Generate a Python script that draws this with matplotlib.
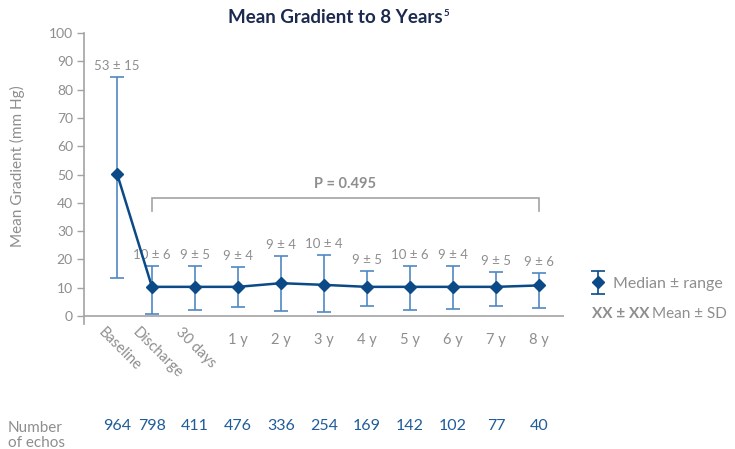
import matplotlib
matplotlib.use("Agg")
import matplotlib.pyplot as plt
import matplotlib.transforms as mtransforms
from matplotlib.container import ErrorbarContainer
from matplotlib.legend_handler import HandlerErrorbar
import numpy as np

plt.rcParams["font.family"] = ["Lato", "DejaVu Sans"]

# data
categories = ["Baseline", "Discharge", "30 days", "1 y", "2 y", "3 y",
              "4 y", "5 y", "6 y", "7 y", "8 y"]
median = [50.2, 10.3, 10.3, 10.3, 11.6, 11.0, 10.3, 10.3, 10.3, 10.3, 10.8]
range_hi = [84.4, 17.7, 17.7, 17.3, 21.2, 21.6, 16.0, 17.7, 17.7, 15.6, 15.2]
range_lo = [13.4, 0.8, 2.2, 3.1, 1.9, 1.5, 3.7, 2.2, 2.4, 3.4, 2.9]
mean_sd = ["53 ± 15", "10 ± 6", "9 ± 5", "9 ± 4", "9 ± 4", "10 ± 4",
           "9 ± 5", "10 ± 6", "9 ± 4", "9 ± 5", "9 ± 6"]
n_echos = [964, 798, 411, 476, 336, 254, 169, 142, 102, 77, 40]
p_value = "P = 0.495"

# baseline sits a bit closer to discharge than the other gaps
xpos = np.array([0.19] + list(range(1, 11)), dtype=float)

GRAY = "#8e8e8e"
SPINE = "#a3a3a3"
NAVY = "#0b4a87"
LIGHT = "#4f88c2"
TITLE = "#1b2a4e"

fig = plt.figure(figsize=(7.35, 4.49), dpi=100)
ax = fig.add_axes([0.1143, 0.2773, 0.653, 0.6492])

med = np.array(median)
yerr = [med - np.array(range_lo), np.array(range_hi) - med]
eb = ax.errorbar(xpos, med, yerr=yerr, fmt="-D", color=NAVY, lw=1.8,
                 ms=6.5, ecolor=LIGHT, elinewidth=1.2, capsize=5,
                 capthick=1.2, zorder=3)
for cap in eb[1]:
    cap.set_color(NAVY)

# mean +/- SD labels above the range caps
for x, hi, lab in zip(xpos, range_hi, mean_sd):
    ax.annotate(lab, (x, hi), xytext=(0, 3.5), textcoords="offset points",
                ha="center", va="bottom", fontsize=9.5, color=GRAY)

# p-value bracket from discharge to 8 y
bx0, bx1 = xpos[1], xpos[-1]
ax.plot([bx0, bx0, bx1, bx1], [37.2, 41.8, 41.8, 37.2], color=SPINE, lw=1.2,
        solid_joinstyle="miter")
ax.text((bx0 + bx1) / 2, 44, p_value, ha="center", va="bottom", fontsize=10.5,
        fontweight="bold", color=GRAY)

ax.set_xlim(-0.58, 10.58)
ax.set_ylim(-3, 100)
ax.set_yticks(np.arange(0, 101, 10))
ax.set_xticks(xpos)
ax.set_xticklabels(categories)
ax.tick_params(axis="y", length=5, width=1, color=SPINE, labelcolor=GRAY,
               labelsize=10, pad=3)
ax.tick_params(axis="x", length=0, labelcolor=GRAY, labelsize=10.5, pad=6)

offset = mtransforms.ScaledTranslation(-12 / 100, 8 / 100, fig.dpi_scale_trans)
for lab in ax.get_xticklabels()[:3]:
    lab.set_rotation(-45)
    lab.set_rotation_mode("anchor")
    lab.set_ha("left")
    lab.set_va("top")
    lab.set_transform(lab.get_transform() + offset)

for side in ["top", "right", "bottom"]:
    ax.spines[side].set_visible(False)
ax.spines["left"].set_color(SPINE)
ax.spines["left"].set_linewidth(1.2)
ax.axhline(0, color=SPINE, lw=1.2, zorder=1)

ax.set_ylabel("Mean Gradient (mm Hg)", color=GRAY, fontsize=11)
ax.yaxis.set_label_coords(-0.123, 0.544)

# legend
proxy = ax.errorbar([np.nan], [np.nan], yerr=[[1], [1]], fmt="D", color=NAVY,
                    ms=6.5, ecolor=NAVY, elinewidth=1.2, capsize=5,
                    capthick=1.2)
leg = ax.legend([proxy], ["Median ± range"], loc="center left",
                bbox_to_anchor=(1.045, 0.139), frameon=False, fontsize=11.5,
                handlelength=0.8, handletextpad=0.5, labelcolor=GRAY,
                borderaxespad=0,
                handler_map={ErrorbarContainer: HandlerErrorbar(yerr_size=0.72)})
t1 = ax.text(1.058, 0.037, "XX ± XX", transform=ax.transAxes, fontsize=11,
             fontweight="bold", color=GRAY, va="center", ha="left")
ax.annotate("Mean ± SD", xy=(1, 0.5), xycoords=t1, xytext=(2, 0),
            textcoords="offset points", fontsize=11, color=GRAY,
            va="center", ha="left")

# number of echos row
trans = mtransforms.blended_transform_factory(ax.transData, fig.transFigure)
for x, n in zip(xpos, n_echos):
    ax.text(x, 0.051, str(n), transform=trans, ha="center", va="center",
            fontsize=11.5, color="#1f5c99", clip_on=False)
fig.text(0.011, 0.03, "Number\nof echos", ha="left", va="center",
         fontsize=11, color=GRAY, linespacing=1.02)

title = fig.text(0.456, 0.962, "Mean Gradient to 8 Years", ha="center",
                 va="center", fontsize=13.5, fontweight="bold", color=TITLE)
ax.annotate("5", xy=(1, 0.95), xycoords=title, xytext=(1, 0),
            textcoords="offset points", fontsize=7, fontweight="bold",
            color=TITLE, va="top", ha="left", annotation_clip=False)

fig.savefig("out.png", dpi=100)
